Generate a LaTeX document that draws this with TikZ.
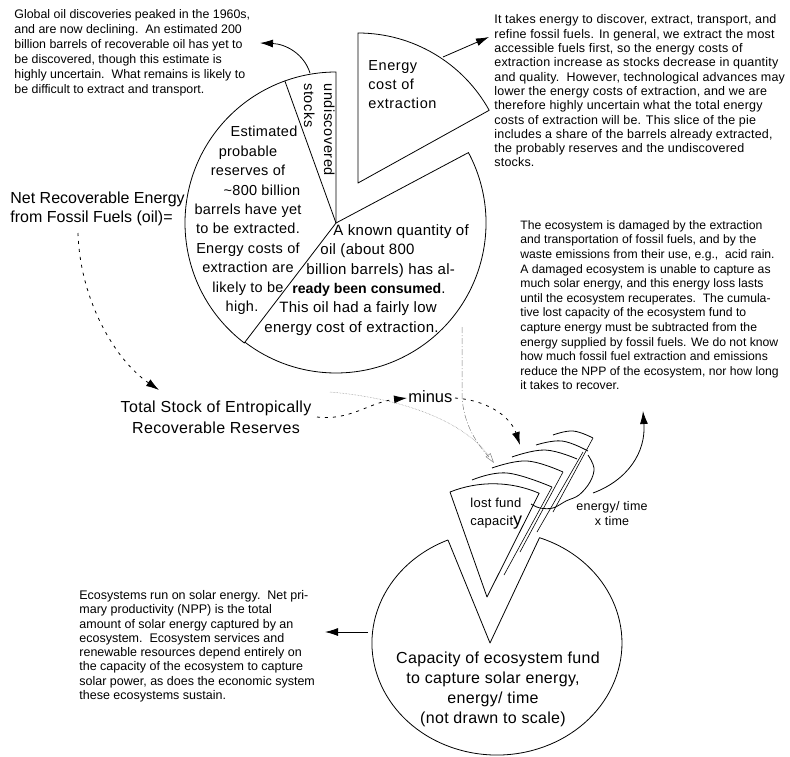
\documentclass[tikz,border=0pt]{standalone}
\usepackage{fontspec}
\setmainfont{Liberation Sans}
\newfontfamily\lsA[LetterSpace=2]{Liberation Sans}
\newfontfamily\lsB[LetterSpace=4]{Liberation Sans}
\newfontfamily\lsC[LetterSpace=1.5]{Liberation Sans}
\usetikzlibrary{arrows.meta,calc}
\tikzset{
  arr/.style={-{Latex[length=13pt,width=8pt]}},
  dsh/.style={dash pattern=on 3pt off 5pt},
  txt/.style={inner sep=0pt,align=left,anchor=north west},
  small/.style={txt,font=\fontsize{12.6}{14.5}\selectfont},
  big/.style={inner sep=0pt,font=\lsA\fontsize{15}{19.4}\selectfont},
  grayline/.style={gray,line width=0.5pt},
}
\begin{document}
\begin{tikzpicture}[x=1pt,y=-1pt,line width=0.8pt,line join=round]
\useasboundingbox (0,0) rectangle (790,756);

% ---------- oil pie ----------
\coordinate (C) at (336,223);
\coordinate (E) at (358,183);
\draw (C) -- ++(127.4:151) arc[start angle=127.4,end angle=270,radius=151] -- cycle;
\draw (C) -- ++(250.2:151);
\draw (C) -- ++(-28:150) arc[start angle=-28,end angle=127.4,radius=150];
\draw (E) -- ++(-90:150) arc[start angle=-90,end angle=-29,radius=150] -- cycle;

% ---------- ecosystem ----------
\coordinate (V1) at (448,540);
\coordinate (VA) at (490,643);
\coordinate (V2) at (539.5,537.7);
\draw (V1) -- (VA) -- (V2) arc[start angle=-70.1,end angle=246.9,x radius=125,y radius=112];

% lost fund wedge and stacked slices
\coordinate (LA) at (487,597);
\coordinate (LL) at (450,492);
\draw (LA) -- (LL) arc[start angle=-111.7,end angle=-66.7,radius=116.5] -- cycle;
\draw plot[smooth,tension=0.7] coordinates {(472,480) (507,473) (552,487)};
\draw plot[smooth,tension=0.7] coordinates {(492,468) (527,461) (563,472)};
\draw plot[smooth,tension=0.7] coordinates {(512,457) (545,450) (577,459)};
\draw plot[smooth,tension=0.7] coordinates {(536,445) (562,441) (588,451)};
\draw plot[smooth,tension=0.7] coordinates {(553,435) (573,431) (593,438)};
\draw[line width=0.6pt] (552,487) -- (504,575);
\draw[line width=0.6pt] (563,472) -- (520,552);
\draw[line width=0.6pt] (583,452) -- (537,532);
\draw[line width=0.6pt] (593,438) -- (553,512);
\draw plot[smooth,tension=0.6] coordinates {(588,455) (594,468) (590,482) (579,495) (566,501) (553,508) (540,508) (531,504)};

% ---------- texts ----------
\node[small,font=\fontsize{12.4}{15}\selectfont] (tl) at (14,9.5) {Global oil discoveries peaked in the 1960s,\\and are now declining.\ \ An estimated 200\\billion barrels of recoverable oil has yet to\\be discovered, though this estimate is\\highly uncertain.\ \ What remains is likely to\\be difficult to extract and transport.};

\node[small,font=\lsC\fontsize{12.5}{14.3}\selectfont] (tr) at (494,14.5) {It takes energy to discover, extract, transport, and\\refine fossil fuels. In general, we extract the most\\accessible fuels first, so the energy costs of\\extraction increase as stocks decrease in quantity\\and quality.\ \ However, technological advances may\\lower the energy costs of extraction, and we are\\therefore highly uncertain what the total energy\\costs of extraction will be. This slice of the pie\\includes a share of the barrels already extracted,\\the probably reserves and the undiscovered\\stocks.};

\node[small,font=\fontsize{12.2}{14.6}\selectfont] (rm) at (520,220) {The ecosystem is damaged by the extraction\\and transportation of fossil fuels, and by the\\waste emissions from their use, e.g.,\ \ acid rain.\\A damaged ecosystem is unable to capture as\\much solar energy, and this energy loss lasts\\until the ecosystem recuperates.\ \ The cumula-\\tive lost capacity of the ecosystem fund to\\capture energy must be subtracted from the\\energy supplied by fossil fuels. We do not know\\how much fossil fuel extraction and emissions\\reduce the NPP of the ecosystem, nor how long\\it takes to recover.};

\node[small,font=\fontsize{12.5}{14.3}\selectfont] (bl) at (79,590) {Ecosystems run on solar energy.\ \ Net pri-\\mary productivity (NPP) is the total\\amount of solar energy captured by an\\ecosystem.\ \ Ecosystem services and\\renewable resources depend entirely on\\the capacity of the ecosystem to capture\\solar power, as does the economic system\\these ecosystems sustain.};

\node[big,font=\lsA\fontsize{14.5}{19.4}\selectfont,align=center,anchor=north] (est) at (248,126) {\hspace*{32pt}Estimated\\probable\\reserves of\\\hspace*{28pt}\textasciitilde800 billion\\barrels have yet\\to be extracted.\\Energy costs of\\extraction are\\likely to be\\high.\hspace*{12pt}};

\node[big,txt] (known) at (264,224) {\hspace*{69pt}A known quantity of\\\hspace*{56pt}oil (about 800\\\hspace*{42pt}billion barrels) has al-\\\hspace*{28pt}{\rmfamily\bfseries\fontsize{14.1}{19.4}\selectfont ready been consumed}.\\\hspace*{15pt}This oil had a fairly low\\energy cost of extraction.};

\node[txt,font=\lsB\fontsize{14.5}{19}\selectfont] (ec) at (368,60.5) {Energy\\cost of\\extraction};

\node[txt,rotate=-90,font=\lsB\fontsize{14.5}{20}\selectfont] (und) at (335,83) {undiscovered\\stocks};

\node[txt,font=\fontsize{16}{20}\selectfont] (net) at (10,191) {Net Recoverable Energy\\from Fossil Fuels (oil)=};

\node[inner sep=0pt,align=center,anchor=north,font=\lsA\fontsize{16}{21}\selectfont] (tot) at (216,400) {Total Stock of Entropically\\Recoverable Reserves};

\node[inner sep=0pt,anchor=base west,font=\fontsize{16.5}{20}\selectfont] (minus) at (408,402) {minus};

\node[txt,font=\lsA\fontsize{13}{18}\selectfont] (lost) at (470,497.5) {lost fund\\capacit{\fontsize{18}{18}\selectfont y}};

\node[inner sep=0pt,align=center,anchor=north,font=\lsA\fontsize{12.5}{15}\selectfont] (et) at (612,501) {energy/ time\\x time};

\node[inner sep=0pt,align=center,anchor=north,font=\lsA\fontsize{16}{20}\selectfont] (cap) at (493,651) {\hspace*{10pt}Capacity of ecosystem fund\\to capture solar energy,\\energy/ time\\(not drawn to scale)};

% ---------- connectors ----------
\coordinate (a1s) at (310,73);   \coordinate (a1e) at (260,43);
\draw[arr] (a1s) .. controls (304,54) and (286,44) .. (a1e);
\coordinate (a2s) at (443,57);   \coordinate (a2e) at (489,37);
\draw[arr] (a2s) -- (a2e);
\coordinate (a3s) at (78,233);   \coordinate (a3e) at (159,390);
\draw[arr,dsh] (a3s) .. controls (80,300) and (115,360) .. (a3e);
\coordinate (a4s) at (317,417);  \coordinate (a4e) at (407,398);
\draw[arr,dsh] (a4s) .. controls (350,421) and (370,402) .. (a4e);
\coordinate (a5s) at (455,398);  \coordinate (a5e) at (520,445);
\draw[arr,dsh] (a5s) .. controls (485,400) and (510,415) .. (a5e);
\coordinate (a6s) at (593,493);  \coordinate (a6e) at (643,411);
\draw[arr] (a6s) .. controls (628,480) and (646,452) .. (a6e);
\coordinate (a7s) at (368,632);  \coordinate (a7e) at (325,632);
\draw[arr] (a7s) -- (a7e);
\coordinate (g1s) at (330,392);  \coordinate (g1e) at (494,463);
\draw[grayline,densely dotted,-{Triangle[open,length=10pt,width=6pt]}] (g1s) .. controls (400,398) and (462,420) .. (g1e);
\coordinate (g2s) at (462,327);  \coordinate (g2m) at (462,395);  \coordinate (g2e) at (489,457);
\draw[grayline,dash pattern=on 6pt off 2pt on 1pt off 2pt] (g2s) -- (g2m) .. controls (463,425) and (478,445) .. (g2e);
\end{tikzpicture}
\end{document}
